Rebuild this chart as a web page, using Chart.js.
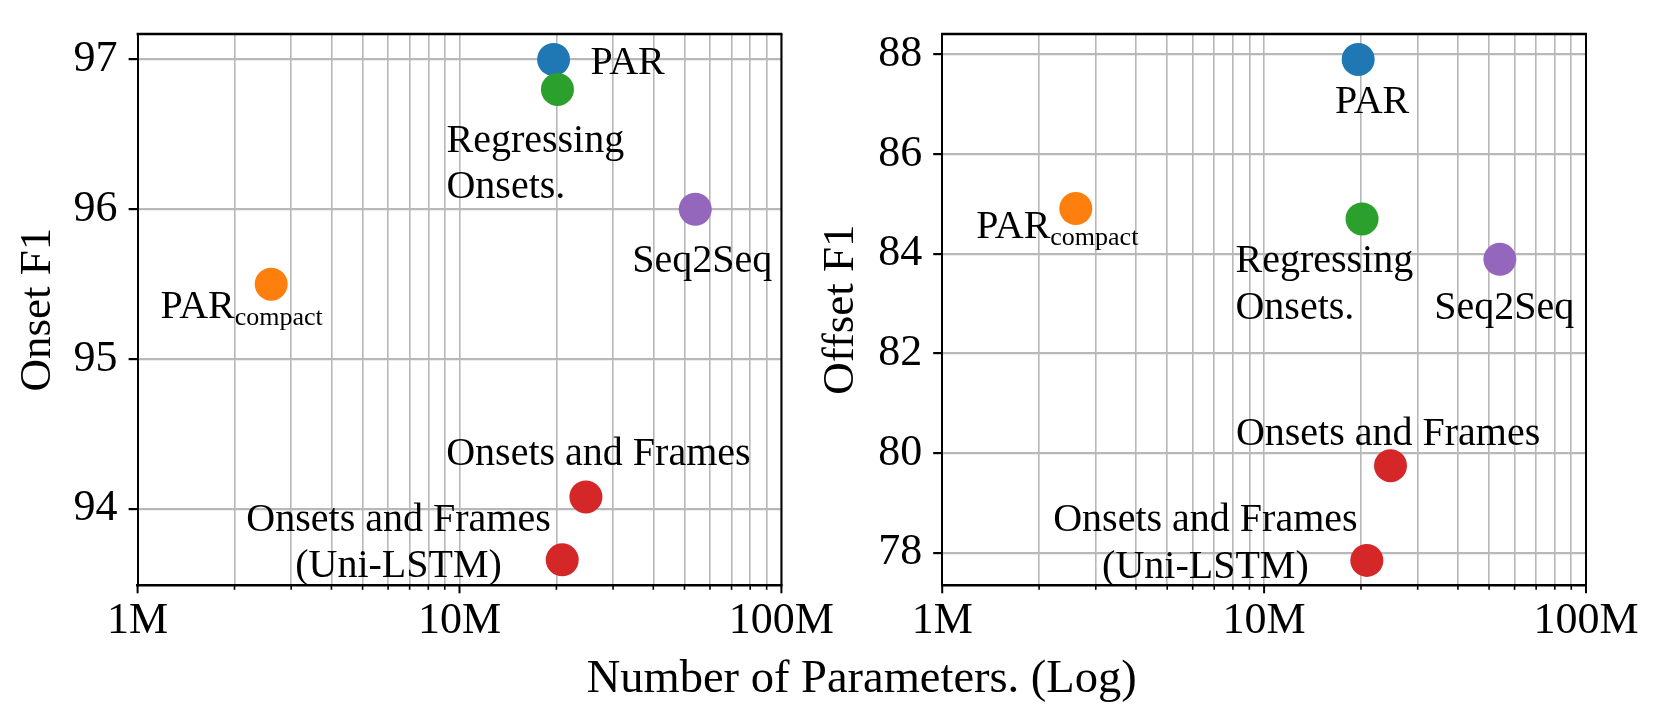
<!DOCTYPE html>
<html>
<head>
<meta charset="utf-8">
<script src="https://cdn.jsdelivr.net/npm/chart.js@4.4.1/dist/chart.umd.min.js"></script>
<style>
  html, body { margin: 0; padding: 0; background: #fff; }
  #wrap { position: relative; width: 1661px; height: 718px; }
  #wrap canvas { position: absolute; left: 0; top: 0; }
</style>
</head>
<body>
<div id="wrap">
  <canvas id="onsetChart" width="1661" height="718"></canvas>
  <canvas id="offsetChart" width="1661" height="718"></canvas>
</div>
<script>
// values
const models = ['PAR', 'PAR_compact', 'Regressing Onsets.', 'Seq2Seq', 'Onsets and Frames', 'Onsets and Frames (Uni-LSTM)'];
const modelParams = [19.6e6, 2.6e6, 20.15e6, 54e6, 24.7e6, 20.85e6];
const onsetF1 = [97.0, 95.5, 96.8, 96.0, 94.08, 93.66];
const offsetF1 = [87.9, 84.91, 84.7, 83.89, 79.75, 77.85];
const modelColors = ['#1f77b4', '#ff7f0e', '#2ca02c', '#9467bd', '#d62728', '#d62728'];

const xTicks = [1e6, 2e6, 3e6, 4e6, 5e6, 6e6, 7e6, 8e6, 9e6,
  1e7, 2e7, 3e7, 4e7, 5e7, 6e7, 7e7, 8e7, 9e7, 1e8];
const xTickLabels = { 1000000: '1M', 10000000: '10M', 100000000: '100M' };
const onsetTicks = [94, 95, 96, 97];
const offsetTicks = [78, 80, 82, 84, 86, 88];

// label placement (pixels relative to each marker)
const onsetLabels = [
  { lines: ['PAR'], align: 'left', dx: 37, dy: 14.7 },
  { lines: ['PAR'], sub: 'compact', align: 'left', dx: -110.6, dy: 34.3 },
  { lines: ['Regressing', 'Onsets.'], align: 'left', dx: -111, dy: 62.4 },
  { lines: ['Seq2Seq'], align: 'center', dx: 7, dy: 62.4 },
  { lines: ['Onsets and Frames'], align: 'left', dx: -139.7, dy: -31.7 },
  { lines: ['Onsets and Frames', '(Uni-LSTM)'], align: 'center', dx: -163.7, dy: -29 }
];
const offsetLabels = [
  { lines: ['PAR'], align: 'center', dx: 14, dy: 53.4 },
  { lines: ['PAR'], sub: 'compact', align: 'left', dx: -99.6, dy: 29.6 },
  { lines: ['Regressing', 'Onsets.'], align: 'left', dx: -126.6, dy: 53.4 },
  { lines: ['Seq2Seq'], align: 'center', dx: 4.5, dy: 59.6 },
  { lines: ['Onsets and Frames'], align: 'left', dx: -154.6, dy: -20.3 },
  { lines: ['Onsets and Frames', '(Uni-LSTM)'], align: 'center', dx: -161.4, dy: -29 }
];

const FONT = "'Liberation Serif', 'Times New Roman', serif";
Chart.defaults.font.family = FONT;
Chart.defaults.color = '#000';

const W = 1661, H = 718;

const framePlugin = {
  id: 'frame',
  beforeDatasetsDraw(chart) {
    const { ctx, chartArea: a } = chart;
    ctx.save();
    ctx.strokeStyle = '#000';
    ctx.lineWidth = 2.4;
    ctx.beginPath();
    ctx.moveTo(a.left - 1, a.top);
    ctx.lineTo(a.right + 1, a.top);
    ctx.stroke();
    ctx.lineWidth = 2;
    ctx.beginPath();
    ctx.moveTo(a.right, a.top);
    ctx.lineTo(a.right, a.bottom);
    ctx.stroke();
    // x tick marks, long for decades, short for the minor ones
    const xs = chart.scales.x;
    xs.ticks.forEach(t => {
      const px = xs.getPixelForValue(t.value);
      const major = xTickLabels[t.value] !== undefined;
      ctx.lineWidth = major ? 2 : 1.6;
      ctx.beginPath();
      ctx.moveTo(px, a.bottom);
      ctx.lineTo(px, a.bottom + (major ? 8 : 4.5));
      ctx.stroke();
    });
    ctx.restore();
  }
};

const labelPlugin = {
  id: 'pointLabels',
  afterDatasetsDraw(chart, args, opts) {
    const { ctx } = chart;
    const points = chart.getDatasetMeta(0).data;
    ctx.save();
    ctx.fillStyle = '#000';
    ctx.textBaseline = 'alphabetic';
    opts.labels.forEach((lab, i) => {
      const p = points[i];
      const x = p.x + lab.dx;
      let y = p.y + lab.dy;
      ctx.font = '40px ' + FONT;
      ctx.textAlign = lab.align;
      lab.lines.forEach(line => {
        ctx.fillText(line, x, y);
        if (lab.sub) {
          const w = ctx.measureText(line).width;
          ctx.font = '26px ' + FONT;
          ctx.textAlign = 'left';
          ctx.fillText(lab.sub, x + w, y + 6.7);
        }
        y += 46.5;
      });
    });
    if (opts.xTitle) {
      ctx.font = '46.5px ' + FONT;
      ctx.textAlign = 'center';
      ctx.fillText(opts.xTitle, 861.7, 692);
    }
    ctx.restore();
  }
};

function makeChart(id, values, yMin, yMax, yTicks, yTitle, box, labels, xTitle) {
  const el = document.getElementById(id);
  return new Chart(el, {
    type: 'scatter',
    data: {
      datasets: [{
        data: modelParams.map((x, i) => ({ x: x, y: values[i] })),
        pointRadius: 16.5,
        pointHoverRadius: 16.5,
        pointBackgroundColor: modelColors,
        pointBorderWidth: 0,
        borderWidth: 0
      }]
    },
    options: {
      responsive: false,
      animation: false,
      devicePixelRatio: 1,
      layout: { padding: { left: box.padLeft, right: W - box.right, top: box.top, bottom: 0 } },
      plugins: {
        legend: { display: false },
        tooltip: { enabled: false },
        pointLabels: { labels: labels, xTitle: xTitle }
      },
      scales: {
        x: {
          type: 'logarithmic',
          min: 1e6,
          max: 1e8,
          afterBuildTicks: s => { s.ticks = xTicks.map(v => ({ value: v })); },
          afterFit: s => { s.height = H - box.bottom; s.paddingLeft = 0; s.paddingRight = 0; },
          ticks: {
            autoSkip: false,
            maxRotation: 0,
            padding: 10,
            font: { size: 44 },
            color: '#000',
            callback: v => xTickLabels[v] || ''
          },
          grid: { color: '#b8b8b8', lineWidth: 1.6, drawTicks: false },
          border: { color: '#000', width: 2.4 }
        },
        y: {
          min: yMin,
          max: yMax,
          afterBuildTicks: s => { s.ticks = yTicks.map(v => ({ value: v })); },
          afterFit: s => { s.width = box.left - box.padLeft; s.paddingTop = 0; s.paddingBottom = 0; },
          ticks: { padding: 11, font: { size: 44 }, color: '#000' },
          grid: { color: '#b8b8b8', lineWidth: 2.2, tickLength: 9, tickColor: '#000', tickWidth: 2.2 },
          border: { color: '#000', width: 2 },
          title: {
            display: true,
            text: yTitle,
            color: '#000',
            font: { size: 45 },
            padding: { top: box.titleX - box.padLeft - 27, bottom: 0 }
          }
        }
      }
    },
    plugins: [framePlugin, labelPlugin]
  });
}

makeChart('onsetChart', onsetF1, 93.49, 97.17, onsetTicks, 'Onset F1',
  { padLeft: 0, left: 137.6, right: 781.4, top: 34, bottom: 585.3, titleX: 37.8 },
  onsetLabels, 'Number of Parameters. (Log)');

makeChart('offsetChart', offsetF1, 77.35, 88.41, offsetTicks, 'Offset F1',
  { padLeft: 800, left: 942.2, right: 1586, top: 34, bottom: 585.3, titleX: 841.5 },
  offsetLabels, null);
</script>
</body>
</html>
